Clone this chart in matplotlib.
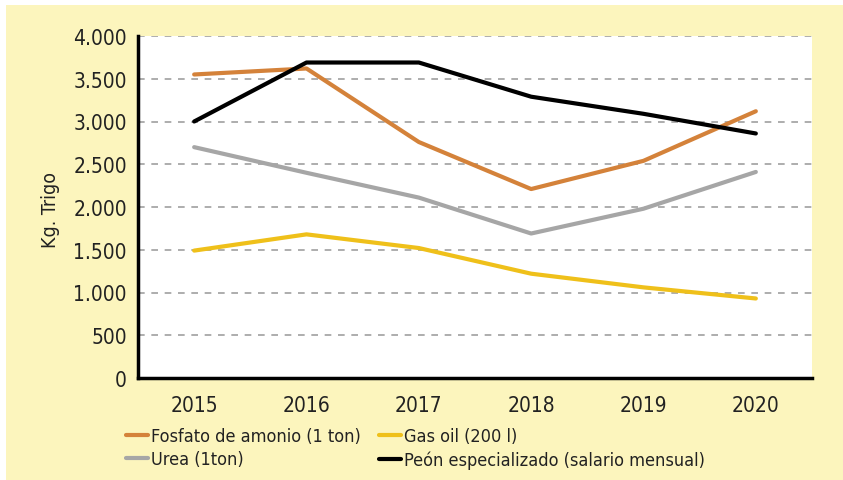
import matplotlib.pyplot as plt
from matplotlib.patches import Rectangle

years = ['2015', '2016', '2017', '2018', '2019', '2020']
fosfato = [3550, 3620, 2760, 2210, 2540, 3120]
urea = [2700, 2400, 2110, 1690, 1980, 2410]
gasoil = [1490, 1680, 1520, 1220, 1060, 930]
peon = [3000, 3690, 3690, 3290, 3090, 2860]

labels = ['Fosfato de amonio (1 ton)', 'Urea (1ton)',
          'Gas oil (200 l)', 'Peón especializado (salario mensual)']
colors = ['#D4823A', '#A6A6A6', '#EFC01A', '#000000']

plt.rcParams['font.family'] = ['DejaVu Sans']
plt.rcParams['font.stretch'] = 'condensed'
bg = '#FCF5BD'

fig = plt.figure(figsize=(8.43, 4.81), dpi=100)
fig.patches.append(Rectangle((6 / 843, 0), 1, 1 - 6 / 481, transform=fig.transFigure,
                             facecolor=bg, edgecolor='none', zorder=-10))

ax = fig.add_axes([138 / 843, 102 / 481, 674 / 843, 342 / 481])
ax.set_facecolor('white')

x = list(range(len(years)))
for series, lab, col in zip([fosfato, urea, gasoil, peon], labels, colors):
    ax.plot(x, series, color=col, lw=3, label=lab, solid_capstyle='round')

ax.set_xlim(-0.5, 5.5)
ax.set_ylim(0, 4000)
ax.set_xticks(x)
ax.set_xticklabels(years)
ax.set_yticks(range(0, 4001, 500))
ax.set_yticklabels([f'{v:,}'.replace(',', '.') for v in range(0, 4001, 500)])
ax.tick_params(length=0, labelsize=15, colors='#222222', pad=8)
ax.tick_params(axis='x', pad=12)
ax.grid(axis='y', color='#A0A0A0', linestyle=(0, (4, 4)), lw=1.2)
ax.set_axisbelow(True)
for s in ['top', 'right']:
    ax.spines[s].set_visible(False)
for s in ['left', 'bottom']:
    ax.spines[s].set_linewidth(2.5)
    ax.spines[s].set_color('black')

fig.text(50 / 843, 1 - 210 / 481, 'Kg. Trigo', rotation=90, ha='center', va='center',
         fontsize=14, color='#222222')

fig.legend(loc='upper left', bbox_to_anchor=(126 / 843, 1 - 428 / 481), ncol=2,
           frameon=False, fontsize=13, handlelength=1.2, handletextpad=0.2,
           columnspacing=1.0, labelspacing=0.3, borderaxespad=0, borderpad=0,
           labelcolor='#222222')

fig.savefig('out.png', dpi=100)
